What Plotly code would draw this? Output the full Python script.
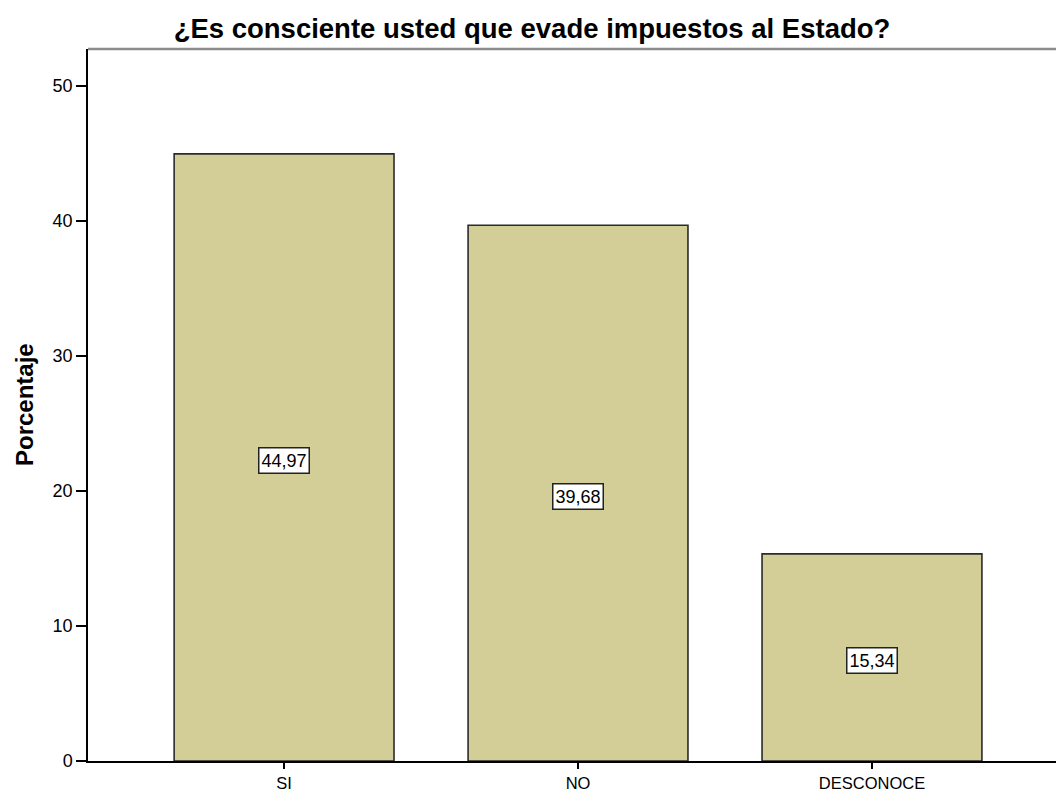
import plotly.graph_objects as go

# Response categories and percentages
categories = ["SI", "NO", "DESCONOCE"]
percentages = [44.97, 39.68, 15.34]
y_ticks = [0, 10, 20, 30, 40, 50]

W, H = 1056, 793
ML, MR, MT, MB = 88, 0, 49, 32
FONT = "Liberation Sans, Arial, sans-serif"

bar_color = "#d3ce97"

fig = go.Figure(
    go.Bar(
        x=list(range(len(categories))),
        y=percentages,
        width=0.748,
        marker=dict(color=bar_color, line=dict(color="#2b2b2b", width=1.6)),
        hoverinfo="skip",
    )
)

# value labels in white boxes at half the bar height
for i, v in enumerate(percentages):
    fig.add_annotation(
        x=i, y=v / 2, xref="x", yref="y",
        text=f"{v:.2f}".replace(".", ","),
        showarrow=False,
        yshift=-3,
        font=dict(family=FONT, size=18, color="#000000"),
        bgcolor="#ffffff",
        bordercolor="#222222",
        borderwidth=1.5,
        borderpad=2,
    )

# y-axis title
fig.add_annotation(
    x=(24 - ML) / (W - ML - MR), y=0.5, xref="paper", yref="paper",
    text="<b>Porcentaje</b>", textangle=-90, showarrow=False,
    font=dict(family=FONT, size=24, color="#000000"),
    xanchor="center", yanchor="middle",
)

# grey frame line across the top of the plot area
fig.add_shape(
    type="line", xref="paper", yref="paper", x0=0, x1=1, y0=1, y1=1,
    line=dict(color="#8c8c8c", width=2.5),
)

fig.update_layout(
    width=W, height=H,
    margin=dict(l=ML, r=MR, t=MT, b=MB, pad=0, autoexpand=False),
    paper_bgcolor="#ffffff",
    plot_bgcolor="#ffffff",
    showlegend=False,
    title=dict(
        text="<b>¿Es consciente usted que evade impuestos al Estado?</b>",
        x=532 / W, xanchor="center", xref="container",
        y=1 - 28 / H, yanchor="middle", yref="container",
        font=dict(family=FONT, size=27.5, color="#000000"),
    ),
    xaxis=dict(
        range=[-0.667, 2.626],
        tickmode="array",
        tickvals=list(range(len(categories))),
        ticktext=categories,
        ticks="outside", ticklen=6, tickwidth=1.5, tickcolor="#000000",
        showline=True, linecolor="#000000", linewidth=1.5,
        showgrid=False, zeroline=False, automargin=False,
        tickfont=dict(family=FONT, size=16.5, color="#000000"),
        fixedrange=True,
    ),
    yaxis=dict(
        range=[0, 52.74],
        tickmode="array",
        tickvals=y_ticks,
        ticks="outside", ticklen=10, tickwidth=1.5, tickcolor="#000000",
        showline=True, linecolor="#000000", linewidth=1.5,
        showgrid=False, zeroline=False, automargin=False,
        tickfont=dict(family=FONT, size=18, color="#000000"),
        fixedrange=True,
    ),
)

fig.write_html("out.html", config={"displayModeBar": False})
